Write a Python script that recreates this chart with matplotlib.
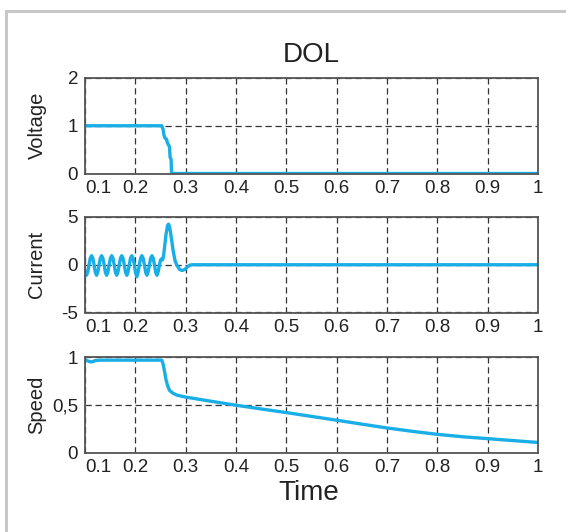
import matplotlib
matplotlib.use("Agg")
import matplotlib.pyplot as plt
from matplotlib.patches import Rectangle

plt.rcParams['font.family'] = ['Liberation Sans Narrow', 'Liberation Sans', 'DejaVu Sans']

LINE_COLOR = '#19aee6'

# Voltage
t_volt = [0.100, 0.2525, 0.255, 0.257, 0.259, 0.262, 0.264, 0.266, 0.268, 0.269, 0.271, 0.272, 1.000]
volt = [1.0, 1.0, 0.93, 0.80, 0.74, 0.72, 0.63, 0.60, 0.55, 0.34, 0.30, 0.0, 0.0]

# Current
t_cur = [0.100, 0.103, 0.1055, 0.108, 0.1105, 0.113, 0.1155, 0.118, 0.1205,
         0.123, 0.1255, 0.128, 0.1305, 0.133, 0.1355, 0.138, 0.1405,
         0.143, 0.1455, 0.148, 0.1505, 0.153, 0.1555, 0.158, 0.1605,
         0.163, 0.1655, 0.168, 0.1705, 0.173, 0.1755, 0.178, 0.1805,
         0.183, 0.1855, 0.188, 0.1905, 0.193, 0.1955, 0.198, 0.2005,
         0.203, 0.2055, 0.208, 0.2105, 0.213, 0.2155, 0.218, 0.2205,
         0.223, 0.2255, 0.228, 0.2305, 0.233, 0.2355, 0.238, 0.2405,
         0.243, 0.2455, 0.248, 0.250, 0.252, 0.254, 0.256, 0.258, 0.261,
         0.264, 0.266, 0.268, 0.271, 0.275, 0.279, 0.283, 0.288, 0.293,
         0.298, 0.303, 0.308, 0.312, 1.000]
cur = [-0.7, -1.1, -0.75, 0.0, 0.7, 0.95, 0.7, 0.0, -0.8,
       -1.1, -0.75, 0.0, 0.7, 0.95, 0.7, 0.0, -0.8,
       -1.1, -0.75, 0.0, 0.7, 0.95, 0.7, 0.0, -0.8,
       -1.1, -0.75, 0.0, 0.7, 0.95, 0.7, 0.0, -0.8,
       -1.1, -0.75, 0.0, 0.7, 0.95, 0.7, 0.0, -0.85,
       -1.25, -0.8, 0.0, 0.7, 0.95, 0.7, 0.0, -0.8,
       -1.1, -0.75, 0.0, 0.7, 0.95, 0.7, 0.0, -0.8,
       -1.1, -0.7, 0.0, 0.5, 0.6, 0.5, 0.9, 1.8, 3.2,
       4.1, 4.25, 4.0, 3.0, 1.5, 0.4, -0.1, -0.5, -0.6,
       -0.5, -0.25, -0.05, 0.0, 0.0]

# Speed
t_speed = [0.100, 0.105, 0.110, 0.115, 0.120, 0.130, 0.2525, 0.255, 0.258, 0.261,
           0.264, 0.268, 0.275, 0.283, 0.300, 0.350, 0.400, 0.450, 0.500, 0.550,
           0.600, 0.650, 0.700, 0.750, 0.800, 0.850, 0.900, 0.950, 1.000]
speed = [0.973, 0.96, 0.95, 0.95, 0.962, 0.967, 0.967, 0.93, 0.85, 0.76,
         0.70, 0.65, 0.62, 0.60, 0.58, 0.537, 0.495, 0.456, 0.418, 0.378,
         0.338, 0.297, 0.257, 0.222, 0.19, 0.165, 0.145, 0.125, 0.105]

x_ticks = [0.1, 0.2, 0.3, 0.4, 0.5, 0.6, 0.7, 0.8, 0.9, 1.0]
x_labels = ['0.1', '0.2', '0.3', '0.4', '0.5', '0.6', '0.7', '0.8', '0.9', '1']

panels = [
    ('Voltage', t_volt, volt, (0, 2), [0, 1, 2], ['0', '1', '2']),
    ('Current', t_cur, cur, (-5, 5), [-5, 0, 5], ['-5', '0', '5']),
    ('Speed', t_speed, speed, (0, 1), [0, 0.5, 1], ['0', '0,5', '1']),
]

W, H = 566, 532
fig = plt.figure(figsize=(W / 100, H / 100), dpi=100)

# light grey frame (only top and left edges inside the image)
fig.add_artist(Rectangle((6 / W, -0.2), 2, (H - 11) / H + 0.2, transform=fig.transFigure,
                         fill=False, edgecolor='#c8c8c8', linewidth=2.2))

left, right = 85, 538
tops = [78, 217, 357]
height = 95.5

for (name, t, y, ylim, yt, ylab), top in zip(panels, tops):
    ax = fig.add_axes([left / W, 1 - (top + height) / H, (right - left) / W, height / H])
    ax.plot(t, y, color=LINE_COLOR, linewidth=2.4, solid_joinstyle='round')
    ax.set_xlim(0.1, 1.0)
    ax.set_ylim(*ylim)
    ax.set_xticks(x_ticks)
    ax.set_xticklabels(x_labels)
    ax.set_yticks(yt)
    ax.set_yticklabels(ylab)
    ax.tick_params(length=0, labelsize=13.5, colors='#222222', pad=5)
    ax.get_xticklabels()[0].set_horizontalalignment('left')
    ax.grid(True, color='#333333', linestyle=(0, (5, 3)), linewidth=0.9)
    for s in ax.spines.values():
        s.set_color('#555555')
        s.set_linewidth(1.3)
    ax.set_ylabel(name, fontsize=14.5, color='#222222')
    ax.yaxis.set_label_coords(-0.085, 0.5)

fig.text(311 / W, 1 - 55 / H, 'DOL', fontsize=20, ha='center', va='center', color='#222222')
fig.text(309 / W, 1 - 493 / H, 'Time', fontsize=20, ha='center', va='center', color='#222222')

fig.savefig('out.png', dpi=100)
